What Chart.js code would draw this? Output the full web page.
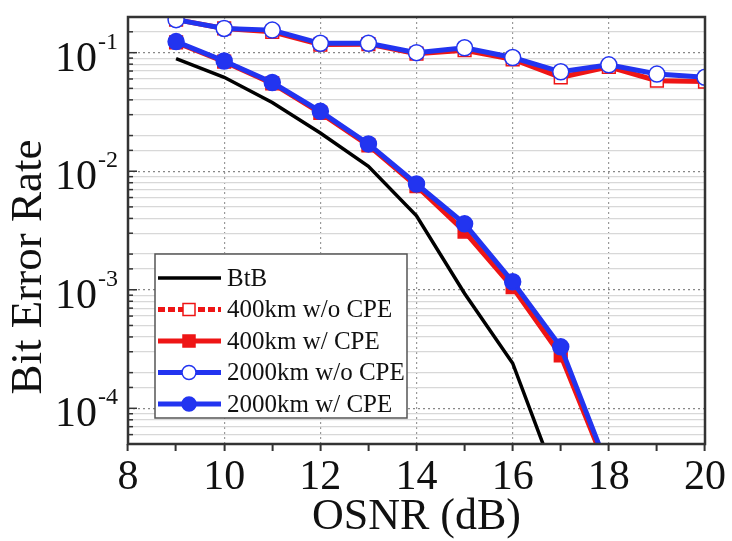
<!DOCTYPE html>
<html>
<head>
<meta charset="utf-8">
<script src="https://cdn.jsdelivr.net/npm/chart.js@4.4.0/dist/chart.umd.min.js"></script>
<style>
html,body{margin:0;padding:0;background:#fff;}
</style>
</head>
<body>
<canvas id="grafica" width="732" height="541"></canvas>
<script>
// datos
let osnr=[9,10,11,12,13,14,15,16,17,18,19,20];
let btb=[0.089,0.062,0.038,0.021,0.011,0.0042,0.00093,0.00024,0.00002,null,null,null];
let km400sin=[0.19,0.16,0.15,0.117,0.118,0.098,0.105,0.088,0.062,0.076,0.058,0.057];
let km400con=[0.122,0.084,0.055,0.031,0.0165,0.0075,0.0031,0.00105,0.00028,0.000028,null,null];
let km2000sin=[0.19,0.16,0.155,0.12,0.12,0.1,0.11,0.091,0.069,0.079,0.066,0.062];
let km2000con=[0.124,0.085,0.056,0.032,0.017,0.0078,0.0036,0.00117,0.00033,0.00003,null,null];
let etiquetas=['BtB','400km w/o CPE','400km w/ CPE','2000km w/o CPE','2000km w/ CPE'];
let decadas=[1e-4,1e-3,1e-2,1e-1];
let xMin=8, xMax=20, yMin=5e-5, yMax=0.2;

let serif="'Liberation Serif','Times New Roman',serif";
let rojo='#ee1515';
let azul='#2234f0';

function puntos(arr){
    let p=[];
    for(let i=0;i<osnr.length;i++){
        if(arr[i]!==null) p.push({x:osnr[i],y:arr[i]});
    }
    return p;
}
function esDecada(v){
    let l=Math.log10(v);
    return Math.abs(l-Math.round(l))<1e-6;
}

// leyenda, marco, ticks interiores y etiquetas 10^n
let extras={
    id:'extras',
    afterDraw(chart){
        let ctx=chart.ctx;
        let a=chart.chartArea;
        let ys=chart.scales.y;
        ctx.save();
        // ticks hacia dentro en eje y
        ctx.strokeStyle='#333';
        ctx.lineWidth=1.5;
        for(let t of ys.ticks){
            if(t.value<=yMin||t.value>=yMax) continue;
            let py=ys.getPixelForValue(t.value);
            let largo=esDecada(t.value)?9:5;
            ctx.beginPath();
            ctx.moveTo(a.left,py);
            ctx.lineTo(a.left+largo,py);
            ctx.stroke();
        }
        // marco
        ctx.strokeStyle='#333';
        ctx.lineWidth=2.5;
        ctx.strokeRect(a.left,a.top,a.right-a.left,a.bottom-a.top);
        // etiquetas del eje y
        ctx.fillStyle='#111';
        for(let i=0;i<decadas.length;i++){
            let py=ys.getPixelForValue(decadas[i]);
            let exp=Math.round(Math.log10(decadas[i]));
            ctx.font='42px '+serif;
            ctx.textAlign='right';
            ctx.textBaseline='alphabetic';
            ctx.fillText('10',97,py+18);
            ctx.font='24px '+serif;
            ctx.textAlign='left';
            ctx.fillText(String(exp),98,py-4);
        }
        // titulo eje y
        ctx.save();
        ctx.translate(29,267);
        ctx.rotate(-Math.PI/2);
        ctx.font='45px '+serif;
        ctx.textAlign='center';
        ctx.textBaseline='middle';
        ctx.fillText('Bit Error Rate',0,0);
        ctx.restore();
        // leyenda
        let lx=155, ly=254, lw=252, lh=164;
        ctx.fillStyle='#fff';
        ctx.fillRect(lx,ly,lw,lh);
        ctx.strokeStyle='#555';
        ctx.lineWidth=1.5;
        ctx.strokeRect(lx,ly,lw,lh);
        for(let i=0;i<chart.data.datasets.length;i++){
            let ds=chart.data.datasets[i];
            let ry=278+i*31.5;
            ctx.strokeStyle=ds.borderColor;
            ctx.lineWidth=ds.borderWidth;
            ctx.setLineDash(ds.legendDash||[]);
            ctx.beginPath();
            ctx.moveTo(158,ry);
            ctx.lineTo(221,ry);
            ctx.stroke();
            ctx.setLineDash([]);
            if(ds.pointRadius>0){
                ctx.fillStyle=ds.pointBackgroundColor;
                ctx.strokeStyle=ds.pointBorderColor;
                ctx.lineWidth=ds.pointBorderWidth;
                ctx.beginPath();
                if(ds.pointStyle==='rect'){
                    ctx.rect(189-6,ry-6,12,12);
                }else{
                    ctx.arc(189,ry,7,0,Math.PI*2);
                }
                ctx.fill();
                ctx.stroke();
            }
            ctx.fillStyle='#111';
            ctx.font='25px '+serif;
            ctx.textAlign='left';
            ctx.textBaseline='middle';
            ctx.fillText(etiquetas[i],227,ry+1);
        }
        ctx.restore();
    }
};

new Chart(document.getElementById('grafica'),{
    type:'line',
    data:{
        datasets:[
            {label:etiquetas[0],data:puntos(btb),borderColor:'#000',borderWidth:3.5,pointRadius:0,order:4},
            {label:etiquetas[1],data:puntos(km400sin),borderColor:rojo,borderWidth:5,pointStyle:'rect',pointRadius:9,
             pointBackgroundColor:'#fff',pointBorderColor:rojo,pointBorderWidth:1.5,order:3,legendDash:[7,3]},
            {label:etiquetas[2],data:puntos(km400con),borderColor:rojo,borderWidth:5,pointStyle:'rect',pointRadius:9,
             pointBackgroundColor:rojo,pointBorderColor:rojo,pointBorderWidth:1.5,order:2},
            {label:etiquetas[3],data:puntos(km2000sin),borderColor:azul,borderWidth:5,pointStyle:'circle',pointRadius:8,
             pointBackgroundColor:'#fff',pointBorderColor:azul,pointBorderWidth:1.5,order:1},
            {label:etiquetas[4],data:puntos(km2000con),borderColor:azul,borderWidth:5,pointStyle:'circle',pointRadius:8,
             pointBackgroundColor:azul,pointBorderColor:azul,pointBorderWidth:1.5,order:0}
        ]
    },
    options:{
        responsive:false,
        animation:false,
        devicePixelRatio:1,
        clip:0,
        layout:{padding:{left:0,right:27,top:17,bottom:0}},
        plugins:{legend:{display:false},tooltip:{enabled:false}},
        elements:{line:{tension:0}},
        scales:{
            x:{
                type:'linear',min:xMin,max:xMax,
                afterFit:function(s){s.height=97;},
                ticks:{stepSize:1,autoSkip:false,maxRotation:0,color:'#111',padding:2,
                    font:{family:serif,size:42},
                    callback:function(v){return v%2===0?String(v):'';}},
                grid:{
                    color:function(c){
                        if(!c.tick) return 'rgba(0,0,0,0)';
                        let v=c.tick.value;
                        return (v%2===0&&v>xMin&&v<xMax)?'#999':'rgba(0,0,0,0)';
                    },
                    lineWidth:1.2,tickColor:'#333',tickLength:7,tickWidth:2
                },
                border:{display:false,dash:[2,3]},
                title:{display:true,text:'OSNR (dB)',color:'#111',
                    font:{family:serif,size:44,lineHeight:1},padding:{top:0,bottom:2}}
            },
            y:{
                type:'logarithmic',min:yMin,max:yMax,
                afterFit:function(s){s.width=128;},
                ticks:{display:false},
                grid:{
                    drawTicks:false,
                    color:function(c){
                        if(!c.tick) return 'rgba(0,0,0,0)';
                        let v=c.tick.value;
                        if(v<=yMin*1.001||v>=yMax*0.999) return 'rgba(0,0,0,0)';
                        return esDecada(v)?'#888':'#d8d8d8';
                    },
                    lineWidth:1.2
                },
                border:{display:false,
                    dash:function(c){
                        if(!c.tick) return [];
                        return esDecada(c.tick.value)?[2,3]:[];
                    }}
            }
        }
    },
    plugins:[extras]
});
</script>
</body>
</html>
